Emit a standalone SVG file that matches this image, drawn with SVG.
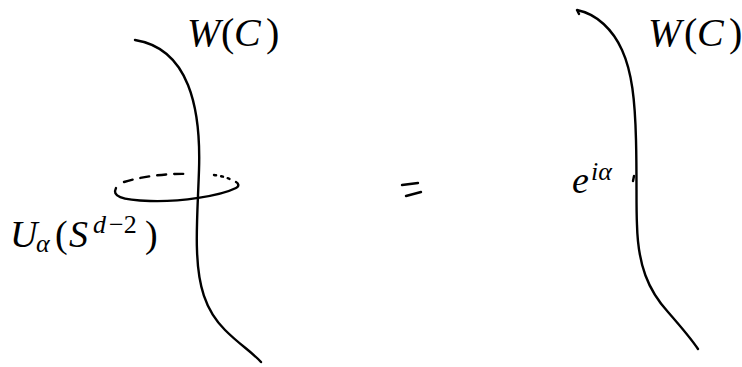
<svg xmlns="http://www.w3.org/2000/svg" width="742" height="367" viewBox="0 0 742 367">
<style>
.c{fill:none;stroke:#000;stroke-width:2.4;stroke-linecap:round;stroke-linejoin:round}
.t{font-family:"Liberation Serif","DejaVu Serif",serif;font-style:italic;fill:#000}
.r{font-style:normal}
</style>
<rect width="742" height="367" fill="#fff"/>
<g id="connectors">
<path class="c" d="M135,40 C160,44 178,60 188,85 C198,110 200,140 199,170 C198,200 196,230 197,250 C198,285 205,310 225,330 C240,345 252,352 261,362"/>
<path class="c" d="M579,14 L577,10 C597,14 613,30 622,50 C632,72 635,100 636,140 C637,180 636,205 637,225 C638,265 648,290 668,312 C682,328 692,340 698,349"/>
<path class="c" d="M116,188 C112,196 120,200 150,201 C180,202 220,196 236,188 C240,186 238,183 236,182"/>
<path class="c" stroke-width="1.6" stroke-dasharray="9,8" d="M124,182 C140,177 165,173 190,174"/>
<path class="c" stroke-width="1.6" stroke-dasharray="2,5" d="M214,175 C222,176 229,178 233,181"/>
<path class="c" stroke-width="2.2" d="M402,185 L418,183 M406,196 L421,192"/>
<path class="c" stroke-width="2" d="M634,176 L633,181"/>
</g>
<g id="wc-left"><text class="t" y="46" font-size="40"><tspan x="187">W</tspan><tspan class="r" x="221">(</tspan><tspan x="234">C</tspan><tspan class="r" x="266">)</tspan></text></g>
<g id="u-label"><text class="t" font-size="38"><tspan x="10" y="247">U</tspan><tspan x="36" y="252" font-size="26">α</tspan><tspan class="r" x="55" y="247">(</tspan><tspan x="69" y="247">S</tspan><tspan x="93" y="233" font-size="26">d</tspan><tspan class="r" x="109" y="233" font-size="26">−2</tspan><tspan class="r" x="145" y="247">)</tspan></text></g>
<g id="wc-right"><text class="t" y="46" font-size="40"><tspan x="648">W</tspan><tspan class="r" x="684">(</tspan><tspan x="697">C</tspan><tspan class="r" x="729">)</tspan></text></g>
<g id="phase"><text class="t" font-size="38"><tspan x="572" y="193">e</tspan><tspan x="591" y="180" font-size="26">iα</tspan></text></g>
</svg>
